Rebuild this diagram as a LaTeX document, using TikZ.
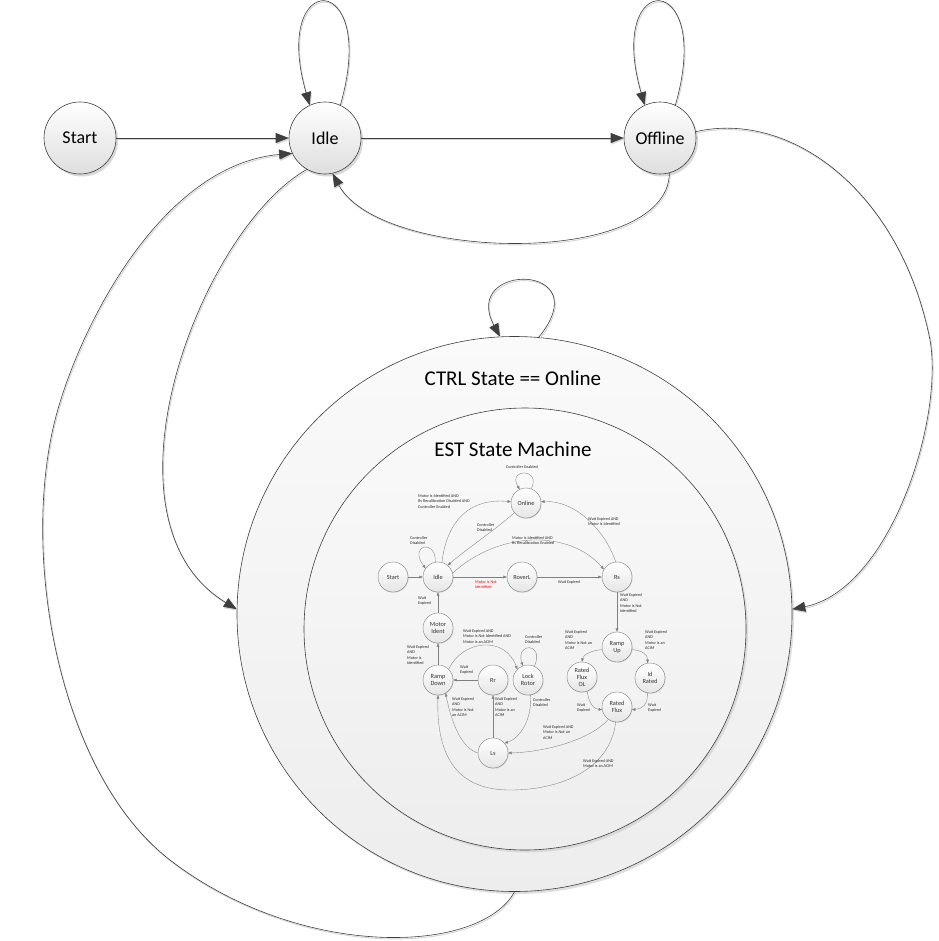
\documentclass[tikz,border=0pt]{standalone}
\usepackage{fontspec}
\setmainfont{Carlito}
\usetikzlibrary{arrows.meta,shadows}
\definecolor{dk}{HTML}{3F3F3F}
\definecolor{lt}{HTML}{D4D4D4}
\tikzset{
  bigstate/.style={circle,draw=dk,line width=0.6pt,top color=white,bottom color=black!13,
     drop shadow={shadow xshift=2pt,shadow yshift=-2.5pt,fill=black!22,opacity=0.7},
     minimum size=72pt,inner sep=0pt,font=\fontsize{18}{21}\selectfont},
  ring/.style={circle,draw=dk,line width=0.6pt,top color=black!2,bottom color=black!7,
     drop shadow={shadow xshift=2pt,shadow yshift=-2.5pt,fill=black!18,opacity=0.7},inner sep=0pt},
  bigtext/.style={font=\fontsize{21}{24}\selectfont,inner sep=0pt},
  conn/.style={draw=dk,line width=0.6pt,-{Triangle[length=13pt,width=10pt]},
     preaction={draw=lt,line width=0.9pt,transform canvas={shift={(0.9pt,-1.4pt)}}}},
  istate/.style={circle,draw=black!55,line width=0.35pt,top color=white,bottom color=black!10,
     drop shadow={shadow xshift=0.7pt,shadow yshift=-0.8pt,fill=black!20,opacity=0.7},
     minimum size=30pt,inner sep=0pt,align=center,font=\fontsize{6.3}{7}\selectfont,text=black!80},
  iconn/.style={draw=black!50,line width=0.35pt,-{Triangle[length=3.4pt,width=2.7pt]}},
  ilab/.style={font=\fontsize{4.2}{5.6}\selectfont,align=left,inner sep=0pt,text=black!85,anchor=north west},
}
\begin{document}
\begin{tikzpicture}[x=1pt,y=-1pt]
\useasboundingbox (0,0) rectangle (938,941);
% big rings
\node[ring,minimum size=555pt] (outer) at (514.5,614) {};
\node[ring,minimum size=442pt] (inner) at (525,629) {};
\node[bigtext] (ctrl) at (513,378) {CTRL State == Online};
\node[bigtext] (est) at (513,449) {EST State Machine};
% top states
\node[bigstate] (start) at (80,138) {Start};
\node[bigstate] (idle) at (325,138) {Idle};
\node[bigstate] (offline) at (660,138) {Offline};
% top connectors
\draw[conn] (start) -- (idle);
\draw[conn] (idle) -- (offline);
\draw[conn] (idle.65) .. controls (380,-32) and (270,-32) .. (idle.115);
\draw[conn] (offline.65) .. controls (715,-32) and (605,-32) .. (offline.115);
\draw[conn] (offline.285) .. controls (668,268) and (380,262) .. (idle.282);
\draw[conn] (idle.240) .. controls (200,230) and (90,520) .. (outer.179);
\draw[conn] (offline.10) .. controls (790,110) and (900,190) .. (930,340) .. controls (944,420) and (890,590) .. (outer.1);
\draw[conn] (outer.270) .. controls (480,955) and (300,960) .. (170,860) .. controls (60,775) and (20,560) .. (55,420) .. controls (78,330) and (160,165) .. (idle.205);
\draw[conn] (outer.85) .. controls (600,262) and (460,262) .. (outer.93);
% inner state machine
\node[istate] (eStart) at (393,577) {Start};
\node[istate] (eIdle) at (438,577) {Idle};
\node[istate] (eOnline) at (526,503) {Online};
\node[istate] (eRoverL) at (522,577) {RoverL};
\node[istate] (eRs) at (617,577) {Rs};
\node[istate] (eRampUp) at (617,647) {Ramp\\Up};
\node[istate] (eRFOL) at (582,677) {Rated\\Flux\\OL};
\node[istate] (eIdRated) at (650,678) {Id\\Rated};
\node[istate] (eRatedFlux) at (617,707) {Rated\\Flux};
\node[istate] (eMotorIdent) at (438,628) {Motor\\Ident};
\node[istate] (eRampDown) at (438,680) {Ramp\\Down};
\node[istate] (eRr) at (493,680) {Rr};
\node[istate] (eLockRotor) at (528,680) {Lock\\Rotor};
\node[istate] (eLs) at (493,753) {Ls};
% inner connectors
\draw[iconn] (eStart) -- (eIdle);
\draw[iconn] (eIdle) -- (eRoverL);
\draw[iconn] (eRoverL) -- (eRs);
\draw[iconn] (eRs) -- (eRampUp);
\draw[iconn] (eIdle.75) .. controls (447,520) and (470,498) .. (eOnline.175);
\draw[iconn] (eOnline.220) .. controls (495,530) and (465,550) .. (eIdle.50);
\draw[iconn] (eIdle.15) .. controls (500,530) and (570,530) .. (eRs.150);
\draw[iconn] (eRs.95) .. controls (605,530) and (575,500) .. (eOnline.5);
\draw[iconn] (eOnline.70) .. controls (542,468) and (507,468) .. (eOnline.115);
\draw[iconn] (eIdle.100) .. controls (436,538) and (408,545) .. (eIdle.145);
\draw[iconn] (eRampUp.190) .. controls (592,650) and (583,655) .. (eRFOL.90);
\draw[iconn] (eRampUp.-10) .. controls (642,650) and (648,655) .. (eIdRated.100);
\draw[iconn] (eRFOL.-70) .. controls (589,704) and (594,709) .. (eRatedFlux.190);
\draw[iconn] (eIdRated.-100) .. controls (648,705) and (642,709) .. (eRatedFlux.-10);
\draw[iconn] (eRatedFlux.235) .. controls (590,740) and (545,752) .. (eLs.0);
\draw[iconn] (eRatedFlux.-95) .. controls (610,770) and (560,790) .. (510,790) .. controls (460,790) and (436,760) .. (eRampDown.-90);
\draw[iconn] (eLs) -- (eRr);
\draw[iconn] (eLs.180) .. controls (462,748) and (452,725) .. (eRampDown.-60);
\draw[iconn] (eRr) -- (eRampDown);
\draw[iconn] (eRampDown.45) .. controls (462,640) and (505,635) .. (eLockRotor.135);
\draw[iconn] (eLockRotor.65) .. controls (545,642) and (515,642) .. (eLockRotor.110);
\draw[iconn] (eLockRotor.-80) .. controls (532,720) and (520,738) .. (eLs.40);
\draw[iconn] (eRampDown) -- (eMotorIdent);
\draw[iconn] (eMotorIdent) -- (eIdle);
% inner labels
\node[ilab] (l1) at (418,494) {Motor is Identified AND\\Rs Recalibration Disabled AND\\Controller Enabled};
\node[ilab] (l2) at (477,523) {Controller\\Disabled};
\node[ilab] (l3) at (512,536) {Motor is Identified AND\\Rs Recalibration Enabled};
\node[ilab] (l4) at (588,517) {Wait Expired AND\\Motor is Identified};
\node[ilab,anchor=center] (l5) at (522,467) {Controller Enabled};
\node[ilab] (l6) at (410,536) {Controller\\Disabled};
\node[ilab,text=red] (l7) at (475,580) {Motor is Not\\Identified};
\node[ilab] (l8) at (558,580) {Wait Expired};
\node[ilab] (l9) at (620,593) {Wait Expired\\AND\\Motor is Not\\Identified};
\node[ilab] (l10) at (565,630) {Wait Expired\\AND\\Motor is Not an\\ACIM};
\node[ilab] (l11) at (645,630) {Wait Expired\\AND\\Motor is an\\ACIM};
\node[ilab] (l12) at (577,703) {Wait\\Expired};
\node[ilab] (l13) at (648,703) {Wait\\Expired};
\node[ilab] (l14) at (543,725) {Wait Expired AND\\Motor is Not an\\ACIM};
\node[ilab] (l15) at (583,759) {Wait Expired AND\\Motor is an ACIM};
\node[ilab] (l16) at (495,697) {Wait Expired\\AND\\Motor is an\\ACIM};
\node[ilab] (l17) at (452,697) {Wait Expired\\AND\\Motor is Not\\an ACIM};
\node[ilab] (l18) at (533,698) {Controller\\Disabled};
\node[ilab] (l19) at (525,635) {Controller\\Disabled};
\node[ilab] (l20) at (463,629) {Wait Expired AND\\Motor is Not Identified AND\\Motor is an ACIM};
\node[ilab] (l21) at (460,665) {Wait\\Expired};
\node[ilab] (l22) at (407,645) {Wait Expired\\AND\\Motor is\\Identified};
\node[ilab] (l23) at (418,596) {Wait\\Expired};
\end{tikzpicture}
\end{document}
